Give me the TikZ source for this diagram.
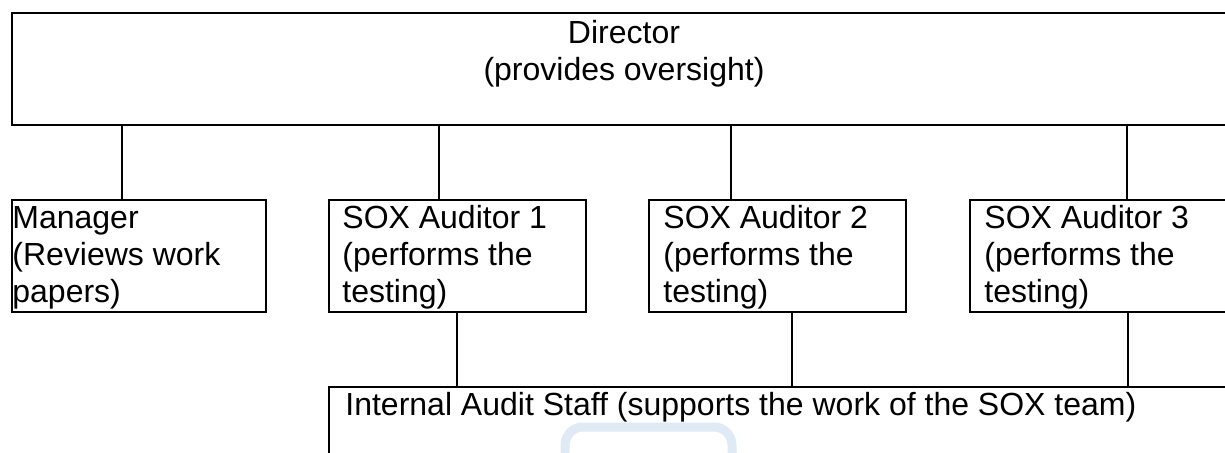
\documentclass[tikz,border=0pt]{standalone}
\usepackage{fontspec}
\setmainfont{Liberation Sans}
\definecolor{markblue}{RGB}{224,234,245}
\begin{document}
\begin{tikzpicture}[x=0.5pt,y=-0.5pt,
  box/.style={draw=black, line width=0.8pt, anchor=north west, inner sep=0pt,
    minimum height=56pt},
  label/.style={anchor=base west, inner sep=0pt, align=left,
    font=\fontsize{16pt}{18.5pt}\selectfont},
  link/.style={draw=black, line width=0.8pt},
  faintmark/.style={draw=markblue, line width=4.5pt, rounded corners=9pt}]
  \useasboundingbox (0,0) rectangle (1225,452);
  \clip (0,0) rectangle (1225,452);
  \fill[white] (0,0) rectangle (1225,452);

  % boxes
  \node[box, minimum width=613pt] (dir) at (11,12) {};
  \node[box, minimum width=127pt] (mgr) at (11,199) {};
  \node[box, minimum width=128.5pt] (sox1) at (328,199) {};
  \node[box, minimum width=128.5pt] (sox2) at (648,199) {};
  \node[box, minimum width=128.5pt] (sox3) at (969,199) {};
  \node[box, minimum width=460pt, minimum height=60pt] (staff) at (328,386) {};

  % texts (placed by the baseline of their last line)
  \node[label, anchor=base, align=center] (dirtxt) at (624,80) {Director\\(provides oversight)};
  \node[label] (mgrtxt) at (12,302) {Manager\\(Reviews work\\papers)};
  \node[label] (s1txt) at (342,302) {SOX Auditor 1\\(performs the\\testing)};
  \node[label] (s2txt) at (663,302) {SOX Auditor 2\\(performs the\\testing)};
  \node[label] (s3txt) at (984,302) {SOX Auditor 3\\(performs the\\testing)};
  \node[label] (stafftxt) at (345,415) {Internal Audit Staff (supports the work of the SOX team)};

  % connector columns
  \coordinate (t1) at (122,0);
  \coordinate (t2) at (439,0);
  \coordinate (t3) at (731,0);
  \coordinate (t4) at (1127,0);
  \coordinate (b1) at (457,0);
  \coordinate (b2) at (792,0);
  \coordinate (b3) at (1128,0);

  \draw[link] (dir.south -| t1) -- (mgr.north -| t1);
  \draw[link] (dir.south -| t2) -- (sox1.north -| t2);
  \draw[link] (dir.south -| t3) -- (sox2.north -| t3);
  \draw[link] (dir.south -| t4) -- (sox3.north -| t4);
  \draw[link] (sox1.south -| b1) -- (staff.north -| b1);
  \draw[link] (sox2.south -| b2) -- (staff.north -| b2);
  \draw[link] (sox3.south -| b3) -- (staff.north -| b3);

  % faint mark at the foot
  \draw[faintmark] (565,480) -- (565,427) -- (732,427) -- (732,480);
\end{tikzpicture}
\end{document}
